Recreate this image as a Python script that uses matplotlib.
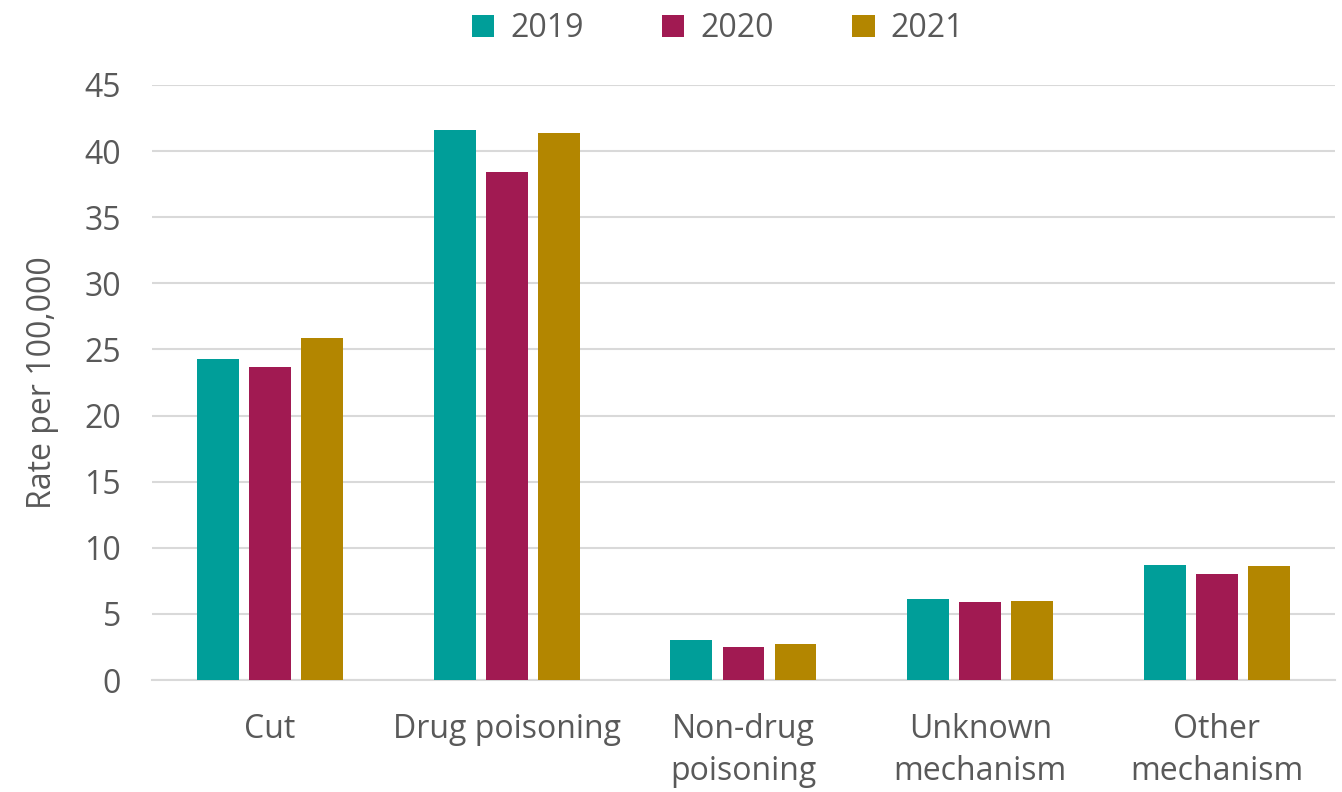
import numpy as np
import matplotlib.pyplot as plt

categories = ["Cut", "Drug poisoning", "Non-drug\npoisoning", "Unknown\nmechanism", "Other\nmechanism"]
years = ["2019", "2020", "2021"]
rates_2019 = [24.3, 41.6, 3.0, 6.1, 8.7]
rates_2020 = [23.7, 38.4, 2.5, 5.9, 8.0]
rates_2021 = [25.9, 41.4, 2.7, 6.0, 8.6]
colors = ["#009E99", "#A11A52", "#B38600"]

plt.rcParams['font.family'] = ['Open Sans', 'DejaVu Sans']
text_col = "#595959"

fig = plt.figure(figsize=(13.42, 7.92), dpi=100)
ax = fig.add_axes([0.113, 0.1414, 0.882, 0.7513])

x = np.arange(len(categories))
width = 0.177
step = 0.22
for i, (vals, yr) in enumerate(zip([rates_2019, rates_2020, rates_2021], years)):
    ax.bar(x + (i - 1) * step, vals, width, color=colors[i], label=yr, zorder=3)

ax.set_xlim(-0.5, len(categories) - 0.5)
ax.set_ylim(0, 45)
ax.set_yticks(range(0, 46, 5))
ax.set_xticks(x)
ax.set_xticklabels(categories, fontsize=23, color=text_col, linespacing=1.36)
ax.tick_params(axis='y', labelsize=23, labelcolor=text_col, length=0, pad=22)
ax.tick_params(axis='x', length=0, pad=24)
ax.grid(axis='y', color="#D9D9D9", linewidth=1.5, zorder=0)
for s in ["top", "right", "left"]:
    ax.spines[s].set_visible(False)
ax.spines["bottom"].set_color("#D9D9D9")
ax.spines["bottom"].set_linewidth(1.5)
ax.set_ylabel("Rate per 100,000", fontsize=23, color=text_col, labelpad=18)

leg = fig.legend(loc='upper center', bbox_to_anchor=(0.535, 1.021), ncol=3, frameon=False,
                 fontsize=23, handlelength=0.7, handleheight=0.7, columnspacing=2.45, handletextpad=0.5)
for t in leg.get_texts():
    t.set_color(text_col)

fig.savefig("out.png", dpi=100)
